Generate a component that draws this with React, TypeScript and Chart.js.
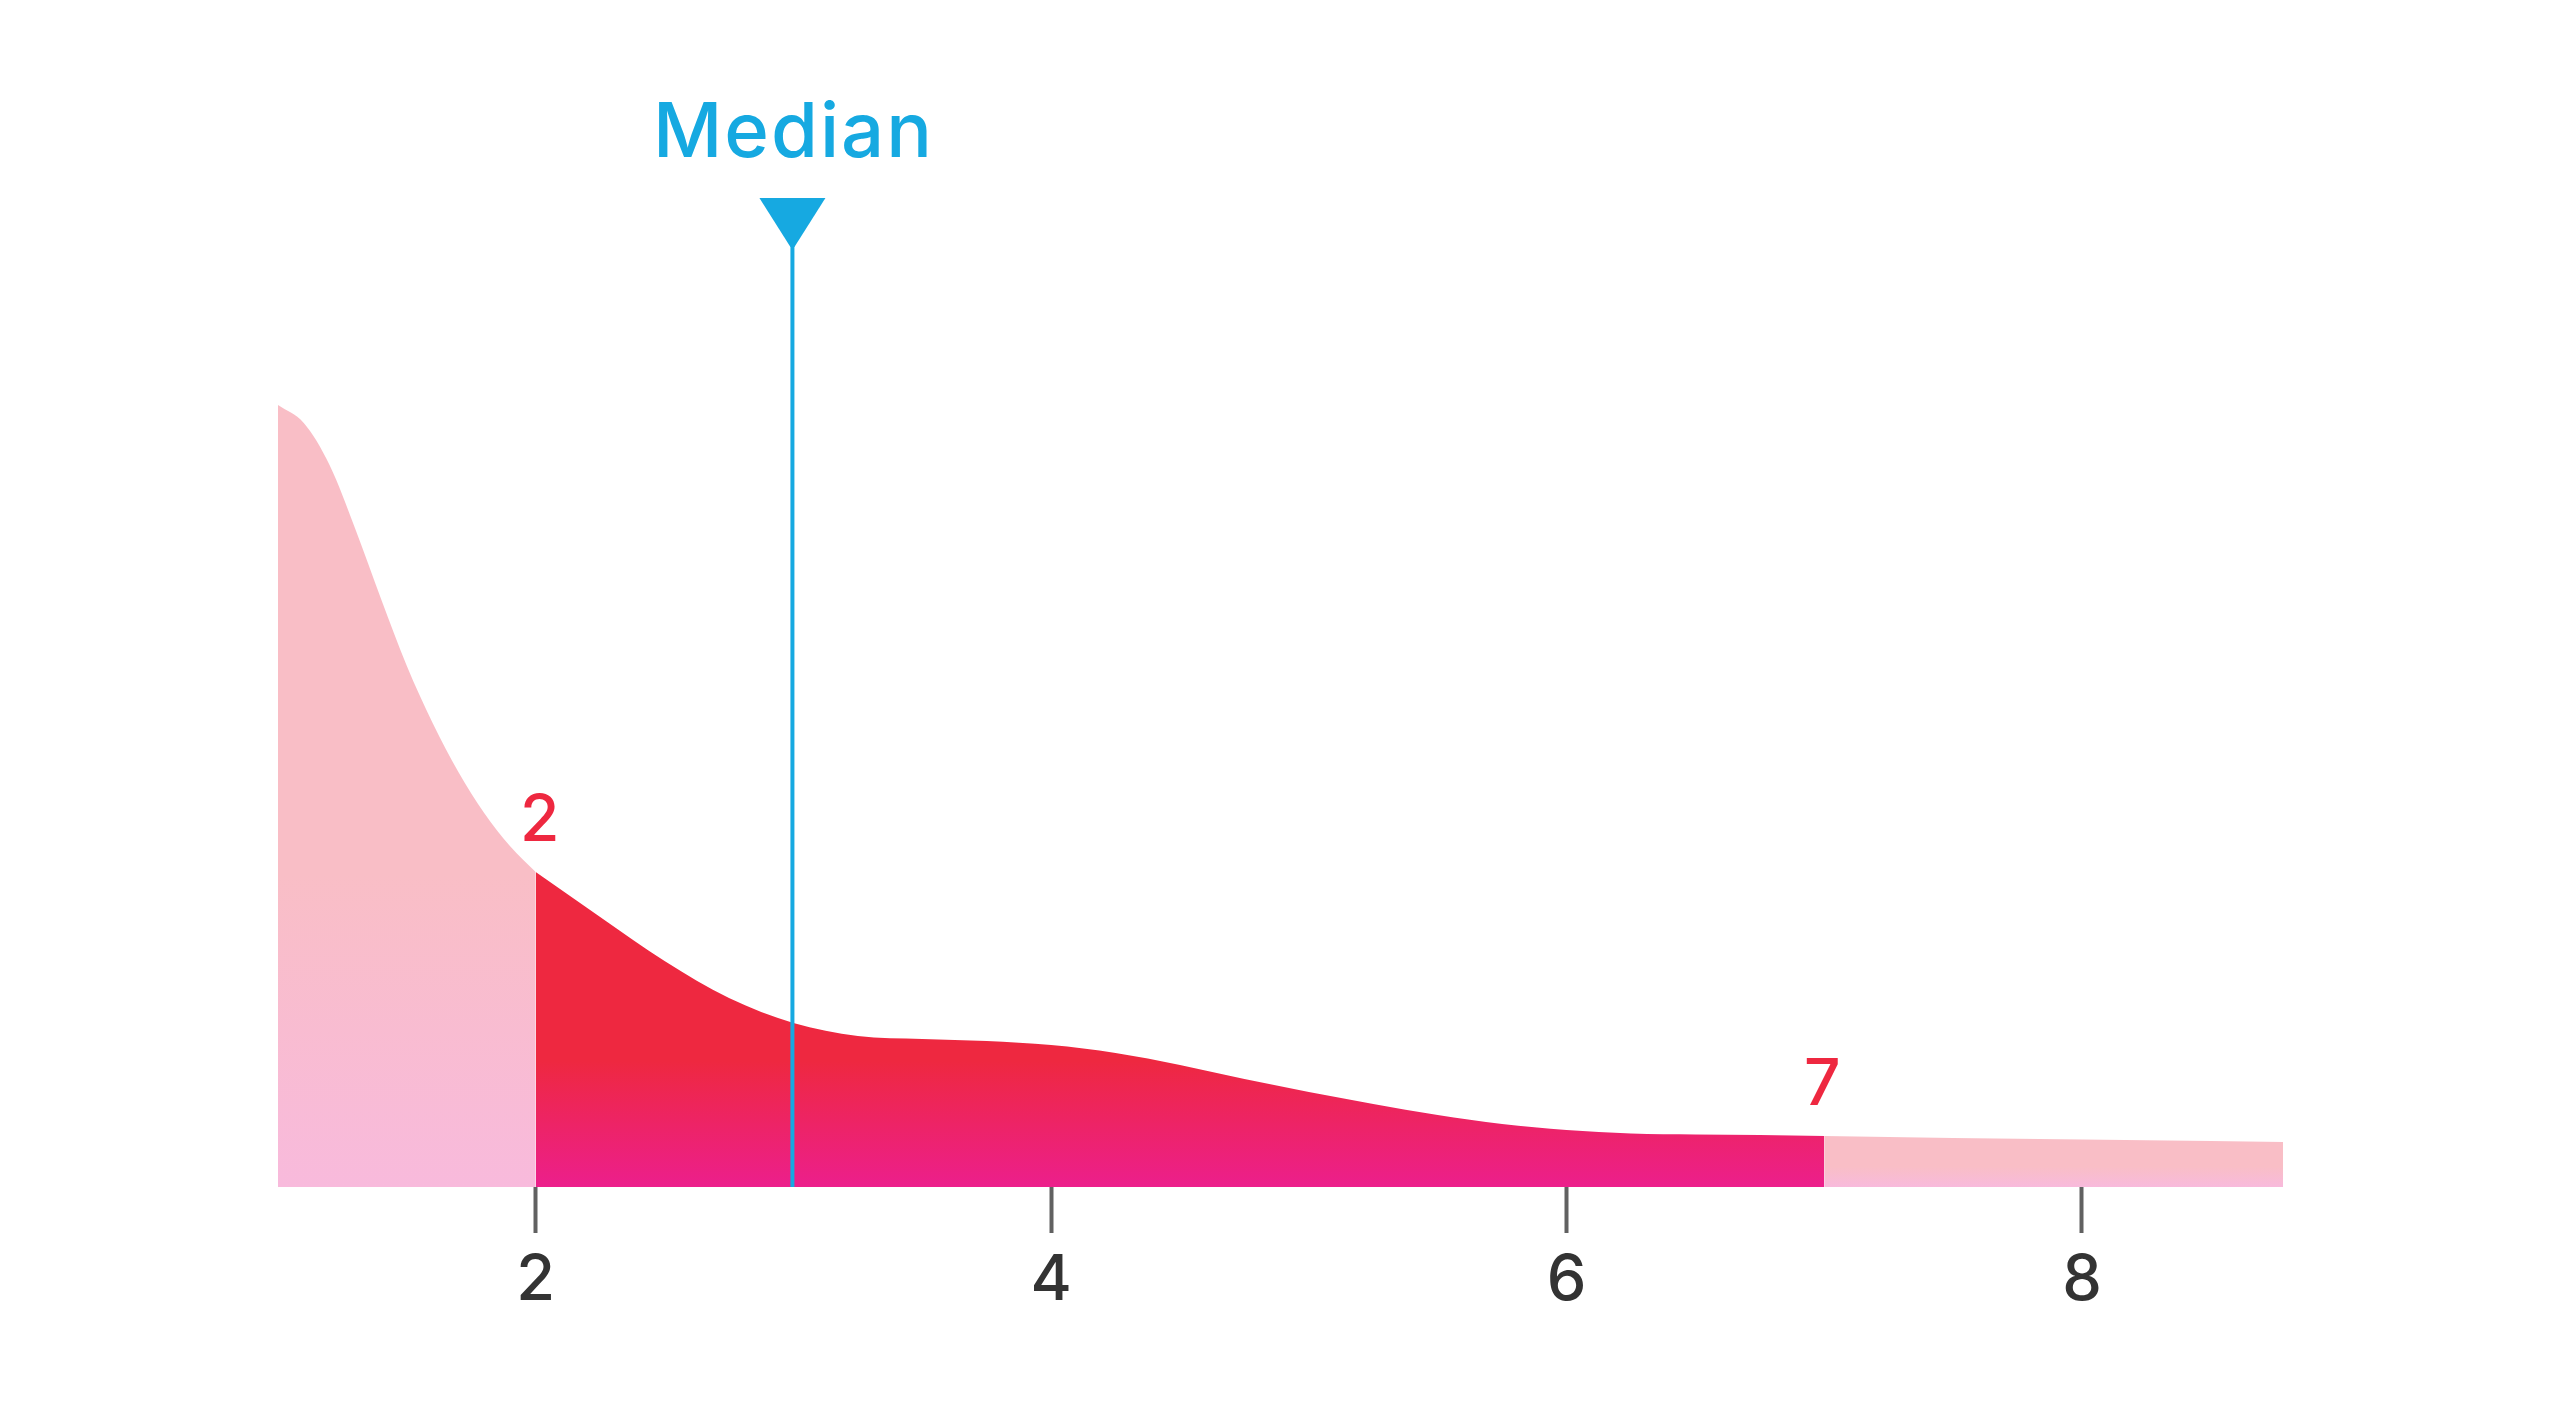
import React, { useEffect, useRef } from 'react';
import { Chart, registerables } from 'chart.js';

Chart.register(...registerables);

// ---- data ----
const LEFT_X = [1.0, 1.1, 1.2, 1.3, 1.4, 1.5, 1.6, 1.7, 1.8, 1.9, 2.0];
const LEFT_Y = [0.782, 0.764, 0.722, 0.658, 0.588, 0.521, 0.464, 0.415, 0.374, 0.341, 0.315];

const MID_X = [2.0, 2.25, 2.5, 2.75, 3.0, 3.25, 3.5, 3.75, 4.0, 4.25, 4.5, 4.75, 5.0, 5.25, 5.5, 5.75, 6.0, 6.25, 6.5, 6.75, 7.0];
const MID_Y = [0.315, 0.27, 0.226, 0.189, 0.164, 0.151, 0.148, 0.146, 0.142, 0.134, 0.122, 0.108, 0.095, 0.083, 0.072, 0.063, 0.057, 0.0535, 0.0525, 0.052, 0.051];

const RIGHT_X = [7.0, 7.5, 8.0, 8.5, 8.78];
const RIGHT_Y = [0.051, 0.049, 0.0475, 0.046, 0.045];

const X_MIN = 1;
const X_MAX = 8.78;
const Y_MAX = 1.0;
const TICKS = [2, 4, 6, 8];
const MEDIAN = 3;
const MEDIAN_LABEL = 'Median';
const RANGE_LABELS = [2, 7];

// ---- styles ----
const BLUE = '#16a9e1';
const RED_TEXT = '#ee2840';
const PINK_TOP = '#f9bec6';
const PINK_BOTTOM = '#f8badc';
const RED_TOP = '#ee2840';
const RED_BOTTOM = '#ec1f8c';
const FONT = 'Inter, "Open Sans", sans-serif';

const toPoints = (xs: number[], ys: number[]) => xs.map((x, i) => ({ x, y: ys[i] }));

// gradient spanning each shape's own height, colour change concentrated near the base
const gradientFill = (top: string, bottom: string, ys: number[]) => (ctx: any) => {
  const chart = ctx.chart;
  const area = chart.chartArea;
  if (!area) return top;
  const yScale = chart.scales.y;
  const shapeTop = yScale.getPixelForValue(Math.max(...ys));
  const g = chart.ctx.createLinearGradient(0, shapeTop, 0, area.bottom);
  g.addColorStop(0, top);
  g.addColorStop(0.6, top);
  g.addColorStop(1, bottom);
  return g;
};

const valueAt = (v: number) => {
  const i = MID_X.indexOf(v);
  return i >= 0 ? MID_Y[i] : 0;
};

const overlayPlugin = {
  id: 'overlay',
  afterDatasetsDraw(chart: any) {
    const { ctx, chartArea, scales } = chart;
    const xs = scales.x;
    const ys = scales.y;
    const px = xs.getPixelForValue(MEDIAN) - 1;
    const base = ys.getPixelForValue(0);
    const triTop = chartArea.top + 11;
    const apex = chartArea.top + 60;
    ctx.save();
    // median line
    ctx.strokeStyle = BLUE;
    ctx.lineWidth = 4;
    ctx.beginPath();
    ctx.moveTo(px, apex - 2);
    ctx.lineTo(px, base);
    ctx.stroke();
    // triangle marker
    ctx.fillStyle = BLUE;
    ctx.beginPath();
    ctx.moveTo(px - 33, triTop);
    ctx.lineTo(px + 33, triTop);
    ctx.lineTo(px + 2, apex);
    ctx.lineTo(px - 2, apex);
    ctx.closePath();
    ctx.fill();
    // median label
    ctx.font = `500 76px ${FONT}`;
    (ctx as any).letterSpacing = '2px';
    ctx.textAlign = 'center';
    ctx.textBaseline = 'alphabetic';
    ctx.fillText(MEDIAN_LABEL, px + 1, chartArea.top - 30);
    (ctx as any).letterSpacing = '0px';
    // range labels
    ctx.fillStyle = RED_TEXT;
    ctx.font = `500 64px ${FONT}`;
    RANGE_LABELS.forEach((v, i) => {
      const dx = i === 0 ? 4 : -2;
      ctx.fillText(String(v), xs.getPixelForValue(v) + dx, ys.getPixelForValue(valueAt(v)) - 31);
    });
    ctx.restore();
  },
};

export default function App() {
  const canvasRef = useRef<HTMLCanvasElement | null>(null);

  useEffect(() => {
    if (!canvasRef.current) return;
    const common = {
      type: 'line',
      fill: 'origin',
      borderWidth: 0,
      borderColor: 'rgba(0,0,0,0)',
      pointRadius: 0,
      cubicInterpolationMode: 'monotone',
    };
    const chart = new Chart(canvasRef.current, {
      type: 'line',
      data: {
        datasets: [
          { ...common, label: 'low', data: toPoints(LEFT_X, LEFT_Y), backgroundColor: gradientFill(PINK_TOP, PINK_BOTTOM, LEFT_Y) },
          { ...common, label: 'range', data: toPoints(MID_X, MID_Y), backgroundColor: gradientFill(RED_TOP, RED_BOTTOM, MID_Y) },
          { ...common, label: 'high', data: toPoints(RIGHT_X, RIGHT_Y), backgroundColor: gradientFill(PINK_TOP, PINK_BOTTOM, RIGHT_Y) },
        ] as any,
      },
      options: {
        animation: false,
        responsive: true,
        maintainAspectRatio: false,
        events: [],
        layout: { padding: { top: 187, left: 278, right: 278, bottom: 0 } },
        plugins: { legend: { display: false }, tooltip: { enabled: false } },
        scales: {
          x: {
            type: 'linear',
            min: X_MIN,
            max: X_MAX,
            afterBuildTicks: (s: any) => {
              s.ticks = TICKS.map((v) => ({ value: v }));
            },
            afterFit: (s: any) => {
              s.height = 216;
            },
            grid: {
              display: true,
              drawOnChartArea: false,
              drawTicks: true,
              tickLength: 46,
              tickWidth: 4,
              tickColor: '#616161',
            },
            border: { display: false },
            ticks: {
              color: '#333333',
              font: { family: FONT, size: 63, weight: '500' },
              padding: 10,
              maxRotation: 0,
              autoSkip: false,
              callback: (v: any) => String(v),
            },
          },
          y: {
            display: false,
            min: 0,
            max: Y_MAX,
          },
        },
      } as any,
      plugins: [overlayPlugin],
    });
    return () => chart.destroy();
  }, []);

  return (
    <div style={{ position: 'fixed', left: 0, top: 0, width: '2561px', height: '1403px', background: '#ffffff' }}>
      <canvas ref={canvasRef} />
    </div>
  );
}
